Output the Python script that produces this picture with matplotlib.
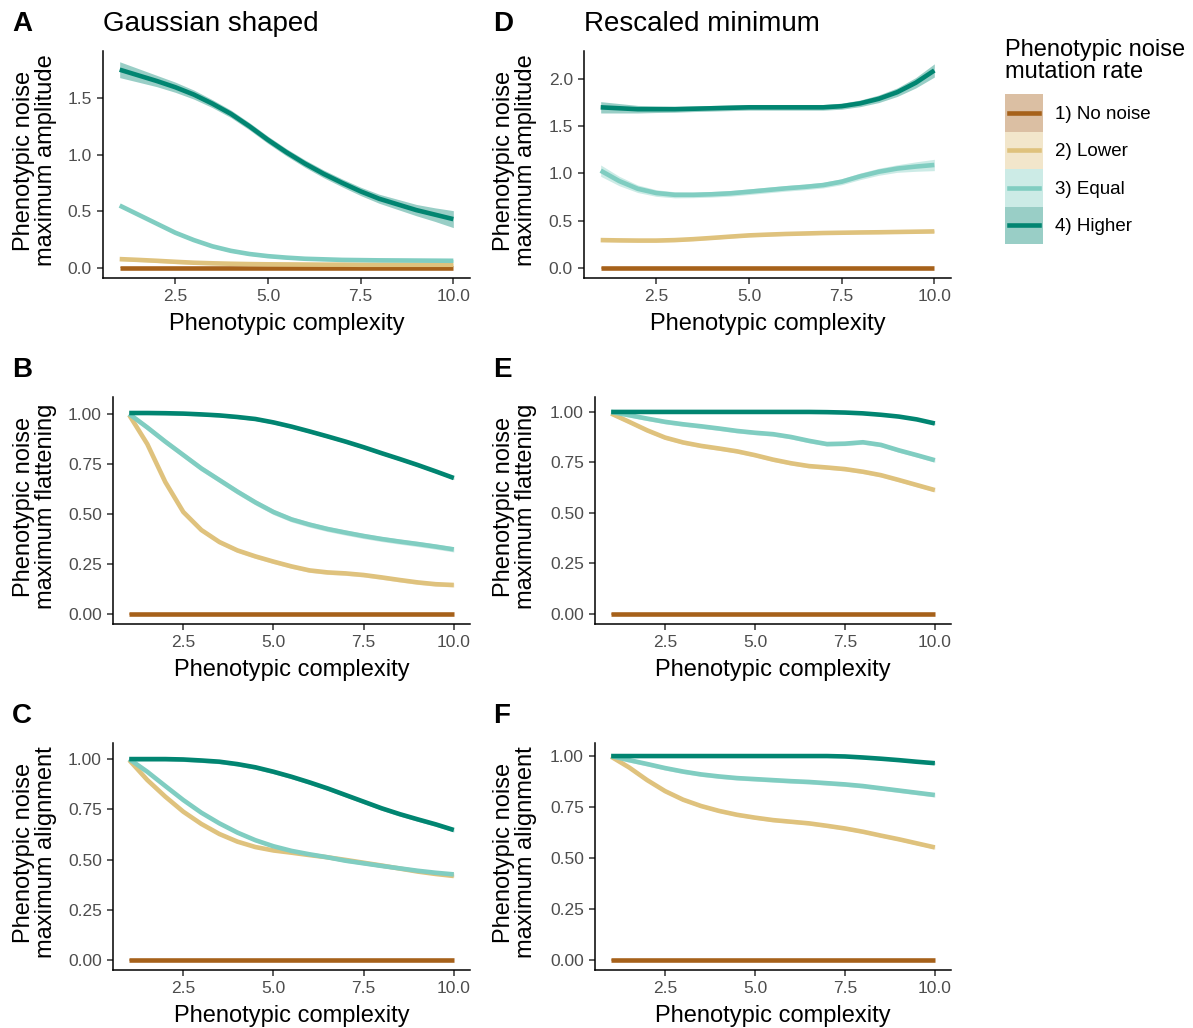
import numpy as np
import matplotlib.pyplot as plt
from matplotlib.patches import Rectangle
from matplotlib.lines import Line2D

plt.rcParams['font.family'] = ['Liberation Sans', 'DejaVu Sans']

W, H = 1193, 1028

complexity = [1.0, 1.5, 2.0, 2.5, 3.0, 3.5, 4.0, 4.5, 5.0, 5.5,
              6.0, 6.5, 7.0, 7.5, 8.0, 8.5, 9.0, 9.5, 10.0]

groups = ["1) No noise", "2) Lower", "3) Equal", "4) Higher"]
colors = ["#A6611A", "#DFC27D", "#80CDC1", "#018571"]
zeros = [0.0] * 19

# A: Gaussian shaped, maximum amplitude
a_lower = [0.077, 0.070, 0.062, 0.053, 0.045, 0.040, 0.036, 0.033, 0.031, 0.030,
           0.029, 0.028, 0.028, 0.027, 0.027, 0.027, 0.027, 0.027, 0.027]
a_equal = [0.55, 0.47, 0.39, 0.31, 0.245, 0.19, 0.15, 0.122, 0.103, 0.09,
           0.08, 0.075, 0.07, 0.068, 0.066, 0.065, 0.064, 0.063, 0.062]
a_higher = [1.75, 1.70, 1.65, 1.595, 1.53, 1.45, 1.36, 1.25, 1.13, 1.02,
            0.92, 0.83, 0.75, 0.675, 0.61, 0.56, 0.51, 0.47, 0.43]
a_higher_se = [0.07, 0.06, 0.05, 0.045, 0.04, 0.035, 0.033, 0.032, 0.032, 0.032,
               0.033, 0.034, 0.035, 0.037, 0.04, 0.045, 0.05, 0.06, 0.075]

# B: Gaussian shaped, maximum flattening
b_lower = [0.995, 0.85, 0.66, 0.51, 0.42, 0.36, 0.318, 0.288, 0.262, 0.238,
           0.218, 0.208, 0.203, 0.195, 0.183, 0.170, 0.158, 0.149, 0.145]
b_equal = [1.0, 0.933, 0.862, 0.795, 0.728, 0.67, 0.612, 0.558, 0.51, 0.473,
           0.447, 0.425, 0.407, 0.39, 0.375, 0.362, 0.35, 0.337, 0.323]
b_higher = [1.005, 1.005, 1.004, 1.002, 0.998, 0.993, 0.985, 0.975, 0.958, 0.937,
            0.913, 0.888, 0.862, 0.834, 0.804, 0.775, 0.745, 0.713, 0.68]

# C: Gaussian shaped, maximum alignment
c_lower = [0.995, 0.896, 0.813, 0.738, 0.677, 0.627, 0.589, 0.562, 0.545, 0.534,
           0.522, 0.511, 0.498, 0.484, 0.470, 0.455, 0.440, 0.428, 0.418]
c_equal = [1.0, 0.937, 0.866, 0.796, 0.733, 0.68, 0.634, 0.596, 0.566, 0.543,
           0.526, 0.511, 0.494, 0.481, 0.468, 0.456, 0.444, 0.434, 0.426]
c_higher = [1.0, 1.0, 1.0, 0.998, 0.993, 0.987, 0.975, 0.959, 0.937, 0.912,
            0.884, 0.854, 0.821, 0.788, 0.755, 0.726, 0.70, 0.675, 0.647]

# D: Rescaled minimum, maximum amplitude
d_lower = [0.295, 0.292, 0.29, 0.29, 0.295, 0.305, 0.318, 0.332, 0.345, 0.353,
           0.36, 0.365, 0.37, 0.373, 0.376, 0.378, 0.381, 0.384, 0.387]
d_equal = [1.03, 0.92, 0.838, 0.793, 0.774, 0.774, 0.78, 0.79, 0.807, 0.825,
           0.843, 0.858, 0.877, 0.913, 0.97, 1.018, 1.052, 1.073, 1.09]
d_equal_se = [0.06, 0.05, 0.04, 0.035, 0.032, 0.03, 0.03, 0.03, 0.03, 0.03,
              0.03, 0.03, 0.03, 0.032, 0.035, 0.037, 0.04, 0.05, 0.06]
d_higher = [1.70, 1.69, 1.68, 1.68, 1.68, 1.685, 1.69, 1.695, 1.70, 1.70,
            1.70, 1.70, 1.70, 1.712, 1.742, 1.79, 1.86, 1.96, 2.09]
d_higher_se = [0.06, 0.05, 0.04, 0.035, 0.032, 0.03, 0.03, 0.03, 0.03, 0.03,
               0.03, 0.03, 0.03, 0.032, 0.035, 0.04, 0.045, 0.055, 0.07]

# E: Rescaled minimum, maximum flattening
e_lower = [0.992, 0.951, 0.909, 0.873, 0.849, 0.832, 0.819, 0.805, 0.786, 0.764,
           0.746, 0.732, 0.725, 0.717, 0.704, 0.687, 0.663, 0.638, 0.613]
e_equal = [1.0, 0.984, 0.967, 0.951, 0.939, 0.929, 0.918, 0.906, 0.897, 0.89,
           0.876, 0.857, 0.841, 0.843, 0.85, 0.837, 0.81, 0.786, 0.761]
e_higher = [1.0, 1.0, 1.0, 1.0, 1.0, 1.0, 1.0, 1.0, 1.0, 1.0,
            1.0, 1.0, 0.999, 0.997, 0.993, 0.986, 0.977, 0.963, 0.943]

# F: Rescaled minimum, maximum alignment
f_lower = [0.997, 0.944, 0.882, 0.828, 0.786, 0.755, 0.731, 0.712, 0.698, 0.686,
           0.678, 0.67, 0.658, 0.645, 0.629, 0.61, 0.592, 0.572, 0.552]
f_equal = [1.0, 0.98, 0.961, 0.941, 0.924, 0.91, 0.9, 0.892, 0.887, 0.882,
           0.877, 0.873, 0.867, 0.861, 0.853, 0.842, 0.831, 0.82, 0.809]
f_higher = [1.0, 1.0, 1.0, 1.0, 1.0, 1.0, 1.0, 1.0, 1.0, 1.0,
            1.0, 1.0, 1.0, 0.998, 0.993, 0.987, 0.98, 0.972, 0.965]

amp_ticks = [0.0, 0.5, 1.0, 1.5, 2.0]
amp_labels = ["0.0", "0.5", "1.0", "1.5", "2.0"]
unit_ticks = [0.0, 0.25, 0.5, 0.75, 1.0]
unit_labels = ["0.00", "0.25", "0.50", "0.75", "1.00"]
x_ticks = [2.5, 5.0, 7.5, 10.0]
x_labels = ["2.5", "5.0", "7.5", "10.0"]

fig = plt.figure(figsize=(W / 100, H / 100), dpi=100)


def panel(box, series, ylim, yticks, ylabels, ylab, letter, ylab_x, title=None):
    left, top, right, bottom = box
    ax = fig.add_axes([left / W, 1 - bottom / H, (right - left) / W, (bottom - top) / H])
    for (vals, se), col in zip(series, colors):
        v = np.asarray(vals)
        s = np.broadcast_to(np.asarray(se, dtype=float), v.shape)
        ax.fill_between(complexity, v - s, v + s, color=col, alpha=0.4, lw=0)
    for (vals, se), col in zip(series, colors):
        ax.plot(complexity, vals, color=col, lw=3.3, solid_capstyle='butt',
                solid_joinstyle='round')
    ax.set_xlim(0.55, 10.45)
    ax.set_ylim(*ylim)
    ax.set_xticks(x_ticks, x_labels)
    ticks = [t for t in yticks if ylim[0] <= t <= ylim[1]]
    ax.set_yticks(ticks, ylabels[:len(ticks)])
    for sp in ("top", "right"):
        ax.spines[sp].set_visible(False)
    for sp in ("left", "bottom"):
        ax.spines[sp].set_linewidth(1.1)
        ax.spines[sp].set_color("black")
    ax.tick_params(direction="out", length=4, width=1.1, color="#333333",
                   labelcolor="#4D4D4D", labelsize=12.5, pad=4)
    cx = (left + right) / 2
    fig.text(cx / W, 1 - (bottom + 46) / H, "Phenotypic complexity",
             ha="center", va="center", size=17)
    fig.text(ylab_x / W, 1 - ((top + bottom) / 2 - 4) / H, ylab, rotation=90,
             ha="center", va="center", size=17, linespacing=0.95,
             multialignment="center")
    fig.text(12 / W if ylab_x < 200 else 493 / W, 1 - (top - 27) / H, letter,
             ha="left", va="center", size=20, fontweight="bold")
    if title:
        fig.text(left / W, 1 - (top - 27) / H, title, ha="left", va="center", size=20)
    return ax


none_se = 0.006
panel((103, 51, 470, 278),
      [(zeros, none_se), (a_lower, 0.015), (a_equal, 0.012), (a_higher, a_higher_se)],
      (-0.09, 1.915), amp_ticks, amp_labels,
      "Phenotypic noise\nmaximum amplitude", "A", 35, "Gaussian shaped")
panel((113, 397, 470, 624),
      [(zeros, none_se), (b_lower, 0.01), (b_equal, 0.013), (b_higher, 0.008)],
      (-0.05, 1.085), unit_ticks, unit_labels,
      "Phenotypic noise\nmaximum flattening", "B", 35)
panel((113, 743, 470, 970),
      [(zeros, none_se), (c_lower, 0.006), (c_equal, 0.008), (c_higher, 0.01)],
      (-0.05, 1.08), unit_ticks, unit_labels,
      "Phenotypic noise\nmaximum alignment", "C", 35)
panel((584, 51, 951, 278),
      [(zeros, none_se), (d_lower, 0.015), (d_equal, d_equal_se), (d_higher, d_higher_se)],
      (-0.106, 2.296), amp_ticks, amp_labels,
      "Phenotypic noise\nmaximum amplitude", "D", 515, "Rescaled minimum")
panel((595, 397, 951, 624),
      [(zeros, none_se), (e_lower, 0.009), (e_equal, 0.01), (e_higher, 0.006)],
      (-0.05, 1.074), unit_ticks, unit_labels,
      "Phenotypic noise\nmaximum flattening", "E", 515)
panel((595, 743, 951, 970),
      [(zeros, none_se), (f_lower, 0.008), (f_equal, 0.01), (f_higher, 0.006)],
      (-0.049, 1.064), unit_ticks, unit_labels,
      "Phenotypic noise\nmaximum alignment", "F", 515)

# legend drawn in figure pixel coordinates
leg = fig.add_axes([0, 0, 1, 1], facecolor="none")
leg.set_xlim(0, W)
leg.set_ylim(H, 0)
leg.axis("off")
leg.text(1005, 61, "Phenotypic noise\nmutation rate", ha="left", va="center",
         size=17, linespacing=1.05)
key_top = [94, 131.5, 169, 206.5]
key_h = 37.5
for kt, col, lab in zip(key_top, colors, groups):
    leg.add_patch(Rectangle((1005, kt), 38, key_h, facecolor=col, alpha=0.4, lw=0))
    leg.add_line(Line2D([1009, 1039], [kt + key_h / 2] * 2, color=col, lw=3.3))
    leg.text(1055, kt + key_h / 2 + 1.5, lab, ha="left", va="center", size=13.5)

fig.savefig("out.png", dpi=100)
